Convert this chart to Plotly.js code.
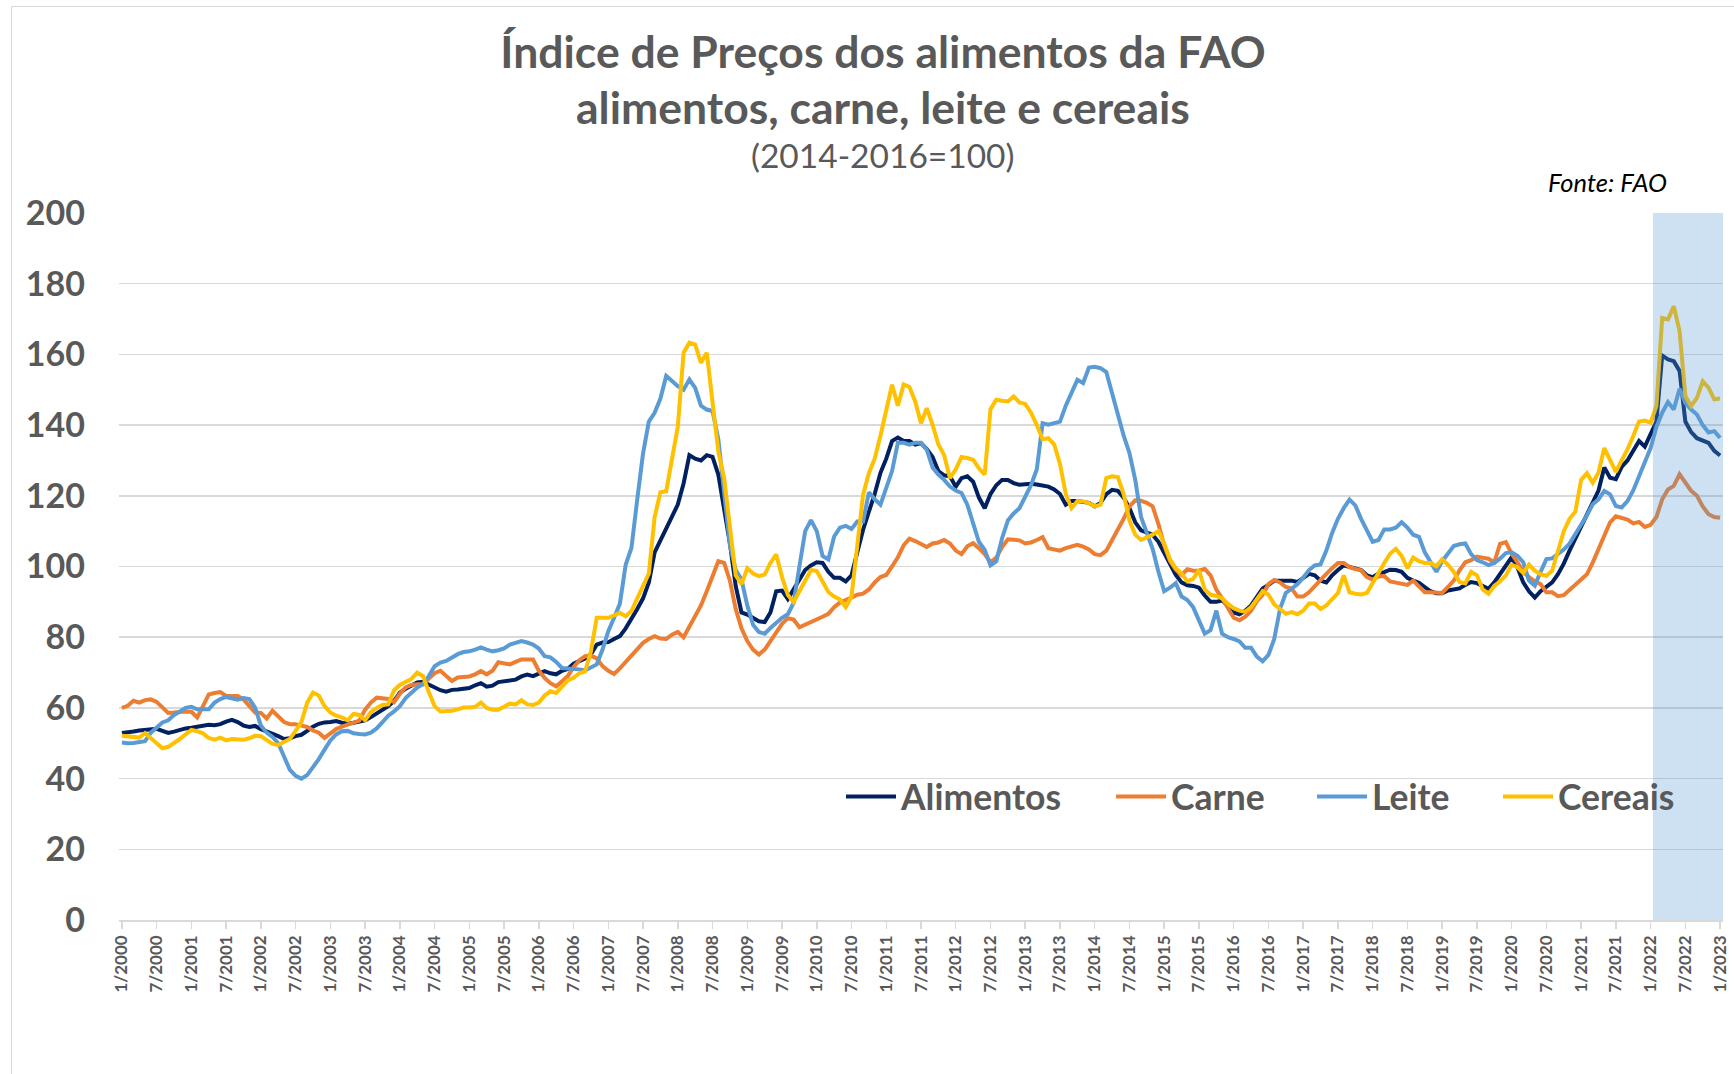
<!DOCTYPE html>
<html><head><meta charset="utf-8">
<script src="https://cdn.plot.ly/plotly-3.0.1.min.js"></script>
<style>
html,body{margin:0;padding:0;background:#fff;overflow:hidden}
#chart{width:1734px;height:1074px;position:absolute;left:0;top:0}
#frame{position:absolute;left:11px;top:6px;width:1800px;height:1200px;border:1px solid #d9d9d9;pointer-events:none}
</style></head><body>
<div id="chart"></div><div id="frame"></div>
<script>
// Monthly categories 1/2000 ... 1/2023
const firstYear = 2000, lastYear = 2023;
const months = [];
for (let y = firstYear; y <= lastYear; y++) {
  for (let mo = 1; mo <= 12; mo++) {
    if (y === lastYear && mo > 1) break;
    months.push(mo + '/' + y);
  }
}
const tickLabels = months.filter((_, i) => i % 6 === 0);
const highlightStart = '1/2022';

const seriesNames = ['Alimentos', 'Carne', 'Leite', 'Cereais'];

const alimentos = [
52.9,53.0,53.3,53.6,53.8,54.0,54.1,53.5,52.9,53.3,53.8,54.2,
54.4,54.7,55.0,55.2,55.1,55.4,56.1,56.6,56.0,55.0,54.6,54.9,
54.0,53.4,52.8,52.0,51.2,51.4,52.0,52.4,53.5,54.7,55.5,55.9,
56.0,56.3,55.8,55.5,55.8,56.1,56.5,57.4,58.4,59.6,60.5,62.0,
64.3,65.4,66.4,67.2,67.4,66.5,65.8,65.0,64.6,65.1,65.2,65.3,
65.6,66.4,67.0,66.0,66.3,67.3,67.5,67.8,68.0,68.9,69.4,69.0,
69.8,70.4,69.8,69.5,70.5,71.0,72.5,73.3,74.0,75.2,77.9,78.5,
78.6,79.5,80.3,82.5,85.0,88.0,91.0,95.5,104.0,107.5,110.5,114.0,
117.5,123.5,131.5,130.5,130.0,131.5,131.0,126.0,117.0,106.5,94.5,87.0,
86.4,85.5,84.5,84.3,87.0,93.0,93.2,90.8,93.5,95.8,99.0,100.3,
101.2,101.0,98.5,96.8,96.8,95.8,97.5,104.0,110.4,115.5,120.5,126.5,
130.5,135.5,136.5,135.5,135.5,134.5,134.9,133.2,131.0,127.0,125.8,125.5,
122.6,125.0,125.5,124.0,119.5,116.5,120.5,123.0,124.5,124.5,123.6,123.1,
123.3,123.4,123.2,123.0,122.6,121.8,120.5,117.5,118.5,118.5,118.3,118.0,
117.0,118.0,120.5,121.7,121.4,119.5,116.5,112.5,110.2,109.5,109.0,107.0,
104.0,100.5,97.6,95.5,94.7,94.5,94.0,91.8,90.0,90.0,90.4,89.0,
87.0,86.5,87.5,89.0,91.5,93.8,94.8,96.0,96.0,96.0,96.0,95.6,
96.8,97.9,97.5,96.0,95.5,97.5,99.0,100.3,99.9,99.5,99.0,97.5,
97.0,98.0,98.4,99.1,99.0,98.5,96.8,96.0,95.4,94.2,93.0,92.4,
92.4,93.2,93.5,93.8,94.8,95.6,95.3,94.5,93.7,95.5,98.0,100.5,
102.6,99.8,95.5,93.0,91.2,93.0,94.3,95.5,97.8,100.8,104.5,108.0,
111.5,115.0,118.5,121.5,128.0,125.1,124.7,128.2,130.0,132.5,135.5,133.9,
137.5,141.0,159.7,158.6,158.1,155.3,141.0,138.0,136.3,135.5,135.0,132.7,
131.4];

const carne = [
60.0,60.6,62.0,61.5,62.2,62.4,61.7,60.2,58.6,58.7,58.9,59.0,
58.9,57.3,60.5,63.8,64.2,64.5,63.4,63.3,63.4,62.4,60.6,58.7,
58.6,57.0,59.2,57.5,56.0,55.4,55.4,55.0,54.6,53.6,53.0,51.5,
52.8,54.0,54.7,55.2,55.8,56.4,59.5,61.5,62.9,62.7,62.5,61.6,
64.0,65.8,66.5,66.7,66.7,68.3,69.8,70.5,69.0,67.6,68.6,68.7,
68.9,69.5,70.4,69.5,70.5,72.9,72.5,72.3,73.0,73.7,73.7,73.7,
70.5,68.5,67.0,66.1,67.5,69.0,71.5,73.5,74.6,74.8,74.0,71.8,
70.5,69.6,71.2,73.0,75.0,76.8,78.4,79.5,80.3,79.6,79.5,80.7,
81.5,80.0,83.0,86.4,89.0,93.0,97.5,101.5,101.0,96.0,88.0,82.5,
78.9,76.5,75.1,76.5,78.9,81.5,83.8,85.4,85.0,82.8,83.5,84.1,
85.0,85.8,86.6,88.5,89.8,90.4,91.2,92.0,92.3,93.5,95.5,97.0,
97.6,100.0,102.6,106.0,107.9,107.2,106.3,105.5,106.5,106.8,107.5,106.5,
104.5,103.5,105.7,106.6,105.2,103.5,101.2,102.5,105.5,107.7,107.6,107.4,
106.5,106.8,107.5,108.3,105.2,104.8,104.5,105.2,105.7,106.1,105.6,104.8,
103.5,103.2,104.5,107.5,110.0,113.5,117.0,118.7,118.6,118.0,117.0,112.0,
106.0,101.5,99.1,97.6,99.2,98.8,98.9,99.3,97.5,93.5,91.0,88.0,
85.5,84.8,85.8,87.5,90.2,92.0,95.0,96.2,95.5,94.2,93.8,91.5,
91.5,92.7,94.5,96.5,97.9,99.5,101.0,101.0,99.8,99.3,98.9,97.0,
96.3,97.2,97.3,95.8,95.4,95.1,94.8,96.0,94.3,92.7,92.7,92.6,
92.5,94.2,96.0,98.9,101.2,101.8,102.8,102.5,102.2,101.2,106.4,106.9,
103.6,101.2,98.6,97.0,95.8,95.0,92.7,92.7,91.6,91.9,93.4,94.8,
96.2,97.8,101.1,104.8,108.5,112.5,114.2,113.8,113.3,112.2,112.6,111.2,
111.8,114.0,119.0,121.8,122.8,126.1,123.7,121.4,120.0,117.0,114.8,114.0,
113.8];

const leite = [
50.2,50.0,50.1,50.3,50.6,53.0,54.5,55.9,56.5,58.0,59.0,60.0,
60.3,59.6,59.6,59.6,61.5,62.5,63.1,62.8,62.3,62.8,62.5,60.1,
55.0,53.0,51.8,50.0,46.0,42.5,40.8,40.0,41.0,43.1,45.5,48.2,
50.8,52.5,53.4,53.5,52.8,52.6,52.5,53.0,54.2,56.0,57.8,59.0,
60.5,62.8,64.5,65.8,66.7,69.0,71.8,72.8,73.3,74.3,75.2,75.8,
76.0,76.5,77.1,76.5,76.0,76.3,76.8,77.9,78.5,78.9,78.5,77.9,
76.8,74.6,74.3,73.0,71.3,71.2,71.0,70.9,70.6,71.5,72.3,76.5,
81.7,85.5,89.5,100.5,105.3,119.0,132.0,141.0,143.5,147.5,153.9,152.5,
151.0,150.0,152.9,150.5,145.5,144.4,144.0,136.0,122.0,106.0,99.0,96.3,
89.0,83.5,81.5,81.0,82.6,84.2,85.5,86.5,89.7,100.0,110.0,113.1,
110.0,103.0,102.0,108.5,111.0,111.5,110.6,112.7,112.7,121.0,119.0,117.5,
122.0,127.0,135.0,135.0,134.5,135.0,135.0,133.0,128.0,126.0,124.5,122.6,
121.5,120.8,117.5,112.0,107.0,104.7,100.3,101.5,108.0,113.0,115.0,116.5,
119.8,123.0,127.5,140.5,140.1,140.5,141.0,145.5,149.0,152.8,151.9,156.3,
156.5,156.1,155.0,149.0,143.5,137.0,132.1,124.5,114.0,109.4,105.0,98.5,
93.0,94.0,95.3,91.5,90.5,88.5,84.5,81.0,82.0,87.5,81.0,80.0,
79.5,78.8,77.0,77.0,74.5,73.2,75.0,79.5,88.0,92.5,93.7,95.0,
96.8,99.0,100.3,100.6,104.5,109.5,113.5,116.5,118.9,117.3,113.5,110.5,
107.0,107.5,110.5,110.5,111.0,112.5,111.0,109.0,108.4,104.0,101.0,98.5,
101.5,103.5,105.8,106.3,106.5,103.5,101.8,101.2,100.4,101.0,102.2,103.8,
104.0,103.0,101.2,96.0,94.6,98.5,102.1,102.3,103.5,104.8,106.5,109.0,
111.5,114.5,117.6,119.0,121.4,120.4,117.1,116.7,118.5,121.5,125.5,129.5,
133.5,139.5,143.5,146.5,144.4,150.3,146.3,144.4,143.0,140.0,137.9,138.3,
136.4];

const cereais = [
52.1,52.0,51.8,51.6,52.9,51.5,50.0,48.6,49.0,50.0,51.2,52.5,
53.8,53.4,52.8,51.5,51.0,51.6,50.8,51.2,51.2,51.0,51.4,52.1,
52.0,51.0,49.8,49.5,50.2,51.2,53.5,56.0,61.5,64.3,63.5,60.5,
58.7,57.8,57.3,56.5,58.3,58.0,56.5,58.8,60.0,60.8,61.0,65.0,
66.5,67.5,68.2,70.0,69.0,64.5,60.5,59.0,59.0,59.2,59.6,60.1,
60.1,60.3,61.5,60.0,59.5,59.5,60.3,61.2,61.0,62.2,61.0,60.8,
61.5,63.5,64.7,64.2,66.0,67.8,68.5,69.8,70.3,76.0,85.5,85.5,
85.5,86.2,86.9,85.9,87.4,91.0,94.5,98.0,114.0,121.0,121.3,130.0,
139.5,160.5,163.3,162.8,157.6,160.5,147.0,132.5,125.0,110.0,97.5,95.0,
99.5,98.0,97.3,97.7,101.0,103.4,97.0,92.0,89.9,93.0,96.3,99.0,
98.7,95.5,92.8,91.5,90.7,88.5,91.5,106.0,120.3,126.4,130.5,137.0,
144.3,151.4,145.5,151.5,150.8,146.7,140.5,144.8,140.1,134.5,131.5,125.0,
127.5,131.0,130.7,130.2,127.8,126.0,144.5,147.2,146.9,146.7,148.1,146.4,
146.0,143.5,140.0,136.0,136.3,134.5,129.0,120.5,116.5,118.5,118.4,117.9,
117.0,117.5,125.0,125.5,125.3,120.5,113.0,109.0,107.5,108.2,109.0,110.0,
106.5,102.0,99.5,98.0,95.8,96.5,99.0,93.5,92.0,91.7,91.0,89.5,
88.2,87.5,87.2,88.5,90.8,93.0,92.0,89.3,88.0,86.6,87.1,86.5,
87.5,89.5,89.5,88.0,89.0,90.8,92.5,97.5,92.7,92.3,92.1,92.5,
95.5,98.0,101.0,103.6,105.0,103.0,99.5,102.5,101.5,101.0,101.0,100.1,
102.0,100.5,98.5,95.6,95.2,98.5,97.5,93.5,92.3,94.5,95.8,97.5,
100.5,99.8,98.2,100.5,98.8,97.8,97.4,98.8,104.0,110.0,113.5,115.5,
124.5,126.4,123.7,126.6,133.5,130.3,126.8,130.0,133.1,136.9,141.0,141.3,
140.7,145.4,170.3,169.9,173.6,166.6,148.2,145.4,147.7,152.4,150.6,147.3,
147.5];

const colors = ['#002060', '#ED7D31', '#5B9BD5', '#FFC000'];
const values = [alimentos, carne, leite, cereais];
const legendIds = ['legend', 'legend2', 'legend3', 'legend4'];

const FONT = 'Lato, "Open Sans", sans-serif';
const GREY = '#595959';

const traces = seriesNames.map((name, i) => ({
  type: 'scatter', mode: 'lines', name: name,
  x: months, y: values[i],
  line: {color: colors[i], width: 4},
  legend: legendIds[i],
  hoverinfo: 'skip'
}));

// plot area geometry (pixels)
const W = 1734, H = 1074;
const mL = 119, mR = 11, mT = 213, mB = 154;
const plotW = W - mL - mR, plotH = H - mT - mB;
const px2x = px => (px - mL) / plotW;
const px2y = py => (H - mB - py) / plotH;

function legendAt(px) {
  return {
    x: px2x(px), xanchor: 'left', y: px2y(797), yanchor: 'middle',
    orientation: 'h', bgcolor: 'rgba(0,0,0,0)', borderwidth: 0,
    itemwidth: 50,
    font: {family: FONT, size: 35.5, color: GREY, weight: 'bold'},
    itemclick: false, itemdoubleclick: false
  };
}

const hlIndex = months.indexOf(highlightStart);
const titleFont = {family: FONT, size: 44.5, color: GREY, weight: 'bold'};

const layout = {
  width: W, height: H,
  margin: {l: mL, r: mR, t: mT, b: mB, pad: 0},
  paper_bgcolor: '#fff', plot_bgcolor: '#fff',
  showlegend: true,
  title: {
    text: 'Índice de Preços dos alimentos da FAO',
    font: titleFont,
    x: 883 / W, xref: 'container', xanchor: 'center',
    y: 1 - 52 / H, yref: 'container', yanchor: 'middle'
  },
  annotations: [
    {text: 'alimentos, carne, leite e cereais', xref: 'paper', yref: 'paper',
     x: px2x(883), y: px2y(107), xanchor: 'center', yanchor: 'middle', showarrow: false,
     font: titleFont},
    {text: '(2014-2016=100)', xref: 'paper', yref: 'paper',
     x: px2x(883), y: px2y(155), xanchor: 'center', yanchor: 'middle', showarrow: false,
     font: {family: FONT, size: 33.5, color: GREY}},
    {text: 'Fonte: FAO', xref: 'paper', yref: 'paper',
     x: px2x(1669), y: px2y(182), xanchor: 'right', yanchor: 'middle', showarrow: false,
     font: {family: FONT, size: 25.5, color: '#000', style: 'italic'}}
  ],
  xaxis: {
    type: 'category', range: [-0.5, months.length - 0.5],
    tickmode: 'array', tickvals: tickLabels, ticktext: tickLabels,
    tickangle: -90,
    tickfont: {family: FONT, size: 17, color: GREY, weight: 'bold'},
    ticks: 'outside', ticklen: 7, tickwidth: 1.5, tickcolor: '#d9d9d9',
    showline: true, linecolor: '#d9d9d9', linewidth: 1.5,
    showgrid: false, zeroline: false, fixedrange: true
  },
  yaxis: {
    range: [0, 200], dtick: 20, tick0: 0,
    tickfont: {family: FONT, size: 34, color: GREY, weight: 'bold'},
    ticks: '', ticklabelstandoff: 33,
    showgrid: true, gridcolor: '#d9d9d9', gridwidth: 1.5,
    showline: false, zeroline: false, fixedrange: true
  },
  shapes: [{
    // highlighted period (2022 onward), shaded above the lines as in the original
    type: 'rect', xref: 'x', yref: 'paper',
    x0: hlIndex + 0.4, x1: months.length - 0.5, y0: 0, y1: 1,
    fillcolor: '#5B9BD5', opacity: 0.3, line: {width: 0}, layer: 'above'
  }],
  legend: legendAt(841),
  legend2: legendAt(1111),
  legend3: legendAt(1312),
  legend4: legendAt(1498)
};

Plotly.newPlot('chart', traces, layout, {staticPlot: true, displayModeBar: false});
</script>
</body></html>
